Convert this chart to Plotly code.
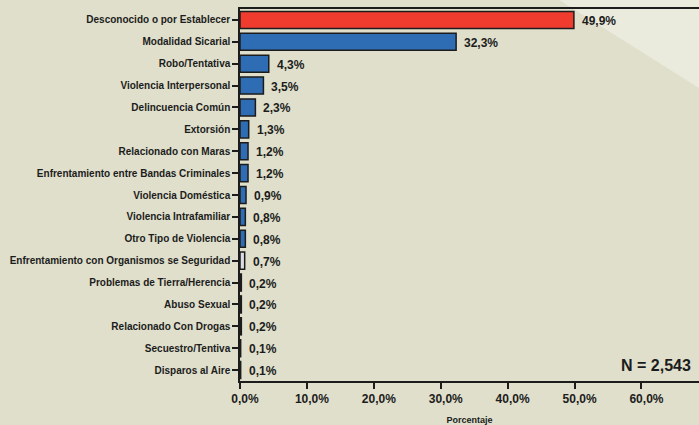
import plotly.graph_objects as go

# Homicide motive categories and their share of cases (%)
categories = [
    "Desconocido o por Establecer",
    "Modalidad Sicarial",
    "Robo/Tentativa",
    "Violencia Interpersonal",
    "Delincuencia Común",
    "Extorsión",
    "Relacionado con Maras",
    "Enfrentamiento entre Bandas Criminales",
    "Violencia Doméstica",
    "Violencia Intrafamiliar",
    "Otro Tipo de Violencia",
    "Enfrentamiento con Organismos se Seguridad",
    "Problemas de Tierra/Herencia",
    "Abuso Sexual",
    "Relacionado Con Drogas",
    "Secuestro/Tentiva",
    "Disparos al Aire",
]
percentages = [49.9, 32.3, 4.3, 3.5, 2.3, 1.3, 1.2, 1.2, 0.9, 0.8, 0.8, 0.7,
               0.2, 0.2, 0.2, 0.1, 0.1]
bar_colors = ["#f03b2f"] + ["#2e6cb3"] * 10 + ["#dcdce4"] + ["#2e6cb3"] * 5

x_ticks = [0, 10, 20, 30, 40, 50, 60]
x_ticktext = ["0,0%", "10,0%", "20,0%", "30,0%", "40,0%", "50,0%", "60,0%"]
sample_note = "N = 2,543"
x_title = "Porcentaje"

def pct_label(v):
    return f"{v:.1f}".replace(".", ",") + "%"

BG = "#dfdfcb"
INK = "#1c1c1c"
FONT = "Liberation Sans, Arial, sans-serif"

fig = go.Figure()
fig.add_trace(go.Bar(
    x=percentages,
    y=categories,
    orientation="h",
    marker=dict(color=bar_colors, line=dict(color=INK, width=1.5)),
    width=0.78,
    hoverinfo="skip",
))

# value labels to the right of each bar
for cat, v in zip(categories, percentages):
    fig.add_annotation(
        x=v, y=cat, xref="x", yref="y",
        text=f"<b>{pct_label(v)}</b>",
        showarrow=False, xanchor="left", yanchor="middle",
        xshift=6, yshift=-1,
        font=dict(family=FONT, size=12, color=INK),
    )

fig.add_annotation(
    x=0.986, y=0.043, xref="paper", yref="paper",
    text=f"<b>{sample_note}</b>", showarrow=False,
    xanchor="right", yanchor="middle",
    font=dict(family=FONT, size=16, color=INK),
)

# lighter diagonal panel in the upper-right corner
fig.add_shape(
    type="path", xref="paper", yref="paper", layer="below",
    path="M 0.688,1.03 L 1.01,1.03 L 1.01,0.78 Z",
    fillcolor="#eaebdc", line=dict(width=0),
)

fig.update_xaxes(
    range=[0, 68.6],
    tickvals=x_ticks, ticktext=[f"<b>{t}</b>" for t in x_ticktext],
    tickfont=dict(family=FONT, size=12, color=INK),
    ticklabelshift=5,
    ticks="outside", ticklen=6, tickwidth=1.5, tickcolor=INK,
    showline=True, linecolor=INK, linewidth=1.5, mirror=True,
    showgrid=False, zeroline=False,
    title=dict(text=f"<b>{x_title}</b>", font=dict(family=FONT, size=9, color=INK),
               standoff=13),
)
fig.update_yaxes(
    autorange="reversed",
    tickfont=dict(family=FONT, size=10, color=INK),
    ticks="outside", ticklen=6, tickwidth=1.5, tickcolor=INK,
    showline=True, linecolor=INK, linewidth=1.5,
    showgrid=False, zeroline=False,
    tickprefix="<b>", ticksuffix="</b>",
)

fig.update_layout(
    width=699, height=425,
    margin=dict(l=240, r=0, t=9, b=44),
    paper_bgcolor=BG, plot_bgcolor="rgba(0,0,0,0)",
    showlegend=False, bargap=0.2,
)

fig.write_html("out.html")
